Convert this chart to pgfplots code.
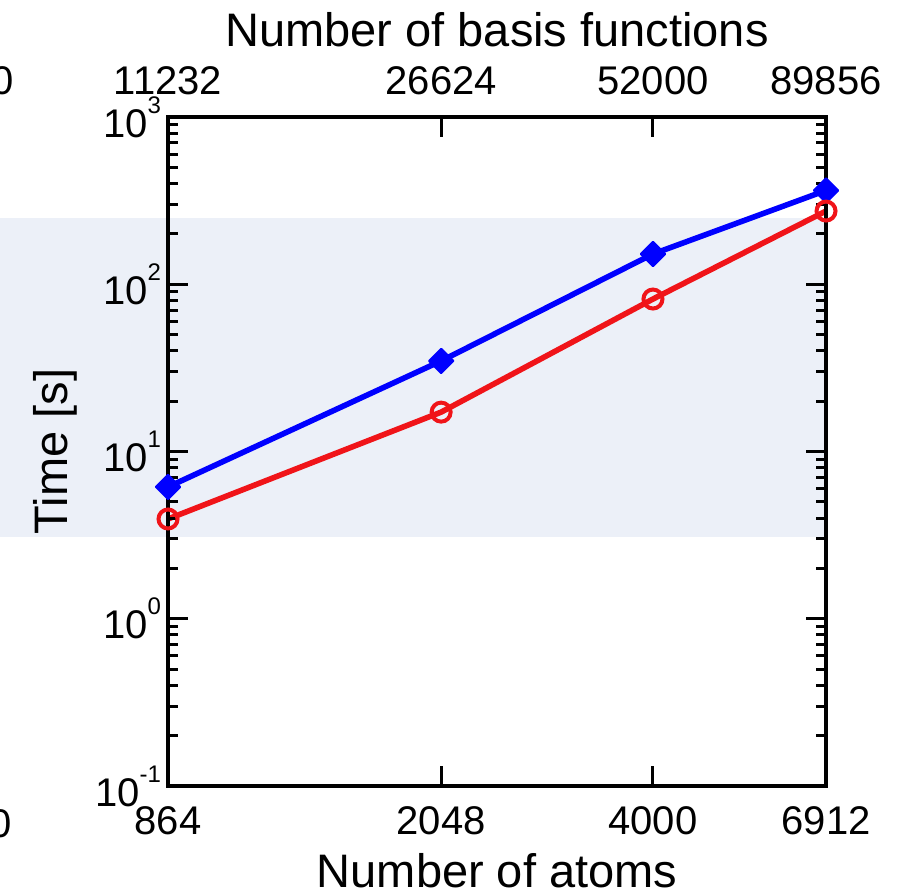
\documentclass[border=0pt]{standalone}
\usepackage{pgfplots}
\pgfplotsset{compat=1.18}
\usepackage{fontspec}
\setmainfont{Liberation Sans}
\definecolor{band}{RGB}{236,240,248}
\definecolor{myblue}{RGB}{0,0,255}
\definecolor{myred}{RGB}{240,20,25}
\newcommand{\tp}[1]{10\raisebox{12pt}{\fontsize{12}{12}\selectfont #1}}
\begin{document}
\begin{tikzpicture}
\path[use as bounding box] (-84pt,-54.5pt) rectangle (371.5pt,393pt);
\fill[band] (-84pt,124.5pt) rectangle (329pt,284pt);
\node[anchor=base east, inner sep=0pt, font=\fontsize{20}{24}\selectfont] at (-77pt,345.5pt) {0};
\node[anchor=base east, inner sep=0pt, font=\fontsize{20}{24}\selectfont] at (-78pt,-25.5pt) {0};
\begin{axis}[
  scale only axis, width=329pt, height=334.5pt,
  xmode=log, ymode=log,
  xmin=864, xmax=6912, ymin=0.1, ymax=1000,
  xtick={864,2048,4000,6912}, xticklabels={864,2048,4000,6912},
  minor xtick={},
  ytick={0.1,1,10,100,1000},
  yticklabels={\tp{-1},\tp{0},\tp{1},\tp{2},\tp{3}},
  tick align=inside, xtick pos=both, ytick pos=both,
  major tick length=10pt, minor tick length=5pt,
  major tick style={black, line width=1.5pt},
  minor tick style={black, line width=1.5pt},
  axis line style={line width=2pt},
  axis on top,
  tick label style={font=\fontsize{20}{24}\selectfont},
  xticklabel style={yshift=-6.5pt},
  xlabel={Number of atoms}, ylabel={Time [s]},
  label style={font=\fontsize{23.5}{28}\selectfont},
  xlabel style={at={(axis description cs:0.5,-0.152)}, anchor=base},
  ylabel style={at={(axis description cs:-0.1535,0.5)}, anchor=base},
]
\addplot[myblue, line width=2.8pt, mark=square*, mark size=4.3pt,
  mark options={rotate=45, line width=1pt, line join=round, solid}]
  coordinates {(864,6.14) (2048,34.8) (4000,151.7) (6912,364)};
\addplot[myred, line width=2.8pt, mark=o, mark size=4.75pt,
  mark options={line width=2pt, solid}]
  coordinates {(864,3.95) (2048,17.2) (4000,81.6) (6912,274)};
\end{axis}
\begin{axis}[
  scale only axis, width=329pt, height=334.5pt,
  xmode=log, ymode=log,
  xmin=864, xmax=6912, ymin=0.1, ymax=1000,
  hide y axis, axis x line*=top,
  x axis line style={draw=none},
  xtick={864,2048,4000,6912}, xticklabels={11232,26624,52000,89856},
  minor xtick={},
  major tick length=0pt,
  tick label style={font=\fontsize{20}{24}\selectfont},
  xticklabel style={yshift=7.3pt},
  xlabel={Number of basis functions},
  xlabel style={at={(axis description cs:0.5,1.1054)}, anchor=base, font=\fontsize{23.5}{28}\selectfont},
]
\end{axis}
\end{tikzpicture}
\end{document}
